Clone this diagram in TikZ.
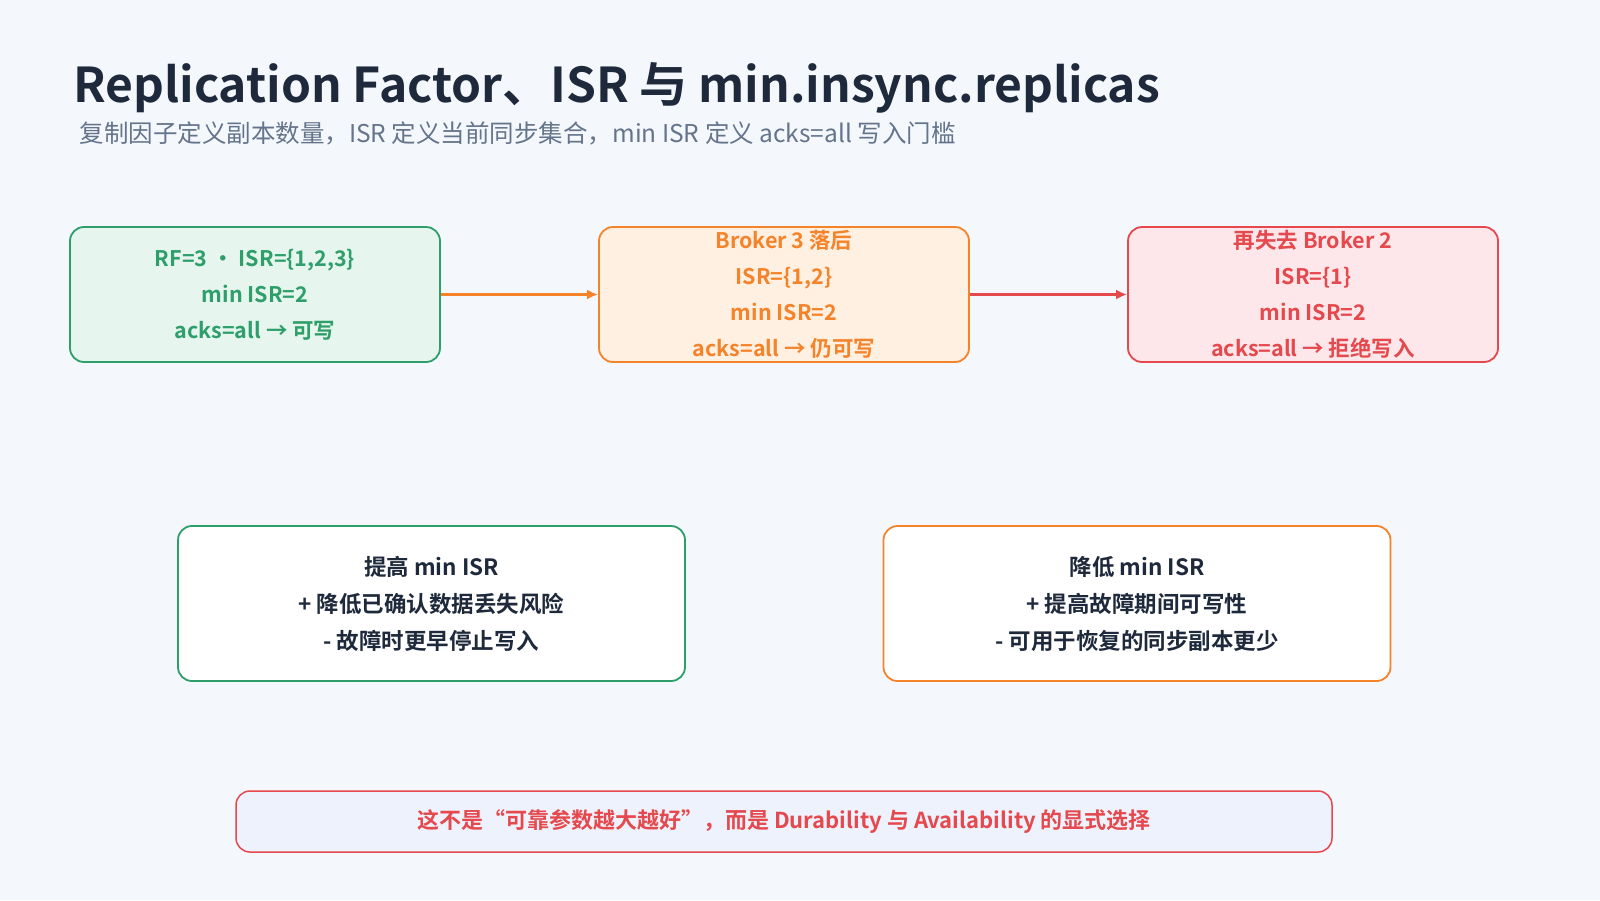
\documentclass[tikz,border=0pt]{standalone}
\usepackage{fontspec}
\setmainfont{Noto Sans CJK SC}[BoldFont={Noto Sans CJK SC Bold}]
\definecolor{bgc}{HTML}{F4F7FC}
\definecolor{ink}{HTML}{1E293B}
\definecolor{sub}{HTML}{64748B}
\definecolor{okc}{HTML}{2E9E6A}
\definecolor{okf}{HTML}{E6F6EE}
\definecolor{warnc}{HTML}{F5832A}
\definecolor{warnf}{HTML}{FFF0E2}
\definecolor{badc}{HTML}{E5484D}
\definecolor{badf}{HTML}{FDE7EA}
\definecolor{notef}{HTML}{EEF2FC}
\tikzset{
  state/.style={rounded corners=14pt, line width=1.8pt, minimum width=370pt,
    minimum height=135pt, align=center, font=\fontsize{21.5}{36}\selectfont\bfseries},
  trade/.style={draw, fill=white, rounded corners=14pt, line width=1.8pt, minimum width=507pt,
    minimum height=155pt, align=center, text=ink, font=\fontsize{22.5}{37}\selectfont\bfseries},
  flow/.style={line width=3.5pt, -{Latex[length=11pt,width=10pt]}}
}
\usetikzlibrary{arrows.meta}
\begin{document}
\begin{tikzpicture}[x=1pt,y=-1pt]
  \fill[bgc] (0,0) rectangle (1600,900);
  \useasboundingbox (0,0) rectangle (1600,900);
  \node[anchor=base west, text=ink, font=\fontsize{48}{52}\selectfont\bfseries] (title) at (70,102)
    {Replication Factor、ISR 与 min.insync.replicas};
  \node[anchor=base west, text=sub, font=\fontsize{24.5}{28}\selectfont] (subtitle) at (76,142)
    {复制因子定义副本数量，ISR 定义当前同步集合，min ISR 定义 acks=all 写入门槛};
  \node[state, draw=okc, fill=okf, text=okc] (s1) at (255,294.5) {RF=3 · ISR=\{1,2,3\}\\min ISR=2\\acks=all → 可写};
  \node[state, draw=warnc, fill=warnf, text=warnc] (s2) at (784,294.5) {Broker 3 落后\\ISR=\{1,2\}\\min ISR=2\\acks=all → 仍可写};
  \node[state, draw=badc, fill=badf, text=badc] (s3) at (1313,294.5) {再失去 Broker 2\\ISR=\{1\}\\min ISR=2\\acks=all → 拒绝写入};
  \draw[flow, warnc] (s1) -- (s2);
  \draw[flow, badc] (s2) -- (s3);
  \node[trade, draw=okc] (up) at (431.5,603.5) {提高 min ISR\\+ 降低已确认数据丢失风险\\- 故障时更早停止写入};
  \node[trade, draw=warnc] (down) at (1137,603.5) {降低 min ISR\\+ 提高故障期间可写性\\- 可用于恢复的同步副本更少};
  \node[draw=badc, fill=notef, rounded corners=14pt, line width=1.5pt, minimum width=1096pt,
    minimum height=61pt, text=badc, font=\fontsize{22}{26}\selectfont\bfseries] (note) at (784,821.5)
    {这不是“可靠参数越大越好”，而是 Durability 与 Availability 的显式选择};
\end{tikzpicture}
\end{document}
